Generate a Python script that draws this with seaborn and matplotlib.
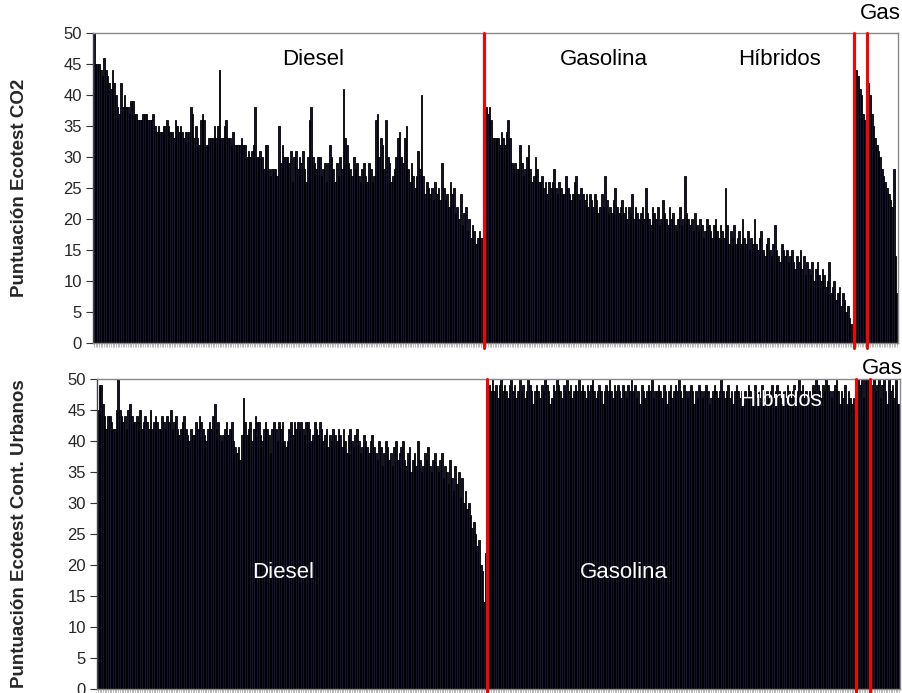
import matplotlib
matplotlib.use('Agg')
import numpy as np
import pandas as pd
import seaborn as sns
from matplotlib import pyplot as plt

# Puntuacion Ecotest CO2 (ordered as in the original chart)
diesel_co2 = [
    50, 45, 45, 45, 44, 43, 46, 44, 43, 42, 41, 44, 42, 40, 38, 37, 42, 38, 40, 38,
    38, 37, 39, 39, 37, 37, 36, 36, 36, 37, 37, 37, 36, 36, 36, 37, 35, 34, 35, 34,
    34, 35, 35, 36, 35, 34, 34, 33, 36, 35, 34, 35, 34, 33, 34, 34, 34, 38, 37, 33,
    35, 33, 32, 36, 37, 36, 32, 32, 33, 33, 33, 35, 33, 35, 44, 33, 33, 35, 36, 33,
    33, 32, 34, 32, 32, 32, 32, 33, 32, 32, 30, 31, 30, 31, 32, 38, 30, 30, 31, 30,
    28, 32, 32, 28, 27, 28, 28, 28, 27, 35, 29, 32, 30, 30, 30, 29, 31, 26, 30, 31,
    28, 30, 29, 31, 28, 26, 30, 36, 38, 30, 29, 28, 30, 30, 27, 28, 29, 26, 29, 32,
    30, 28, 26, 29, 27, 30, 28, 41, 33, 32, 29, 28, 27, 30, 28, 29, 27, 26, 28, 29,
    27, 26, 29, 28, 26, 27, 36, 37, 30, 33, 32, 28, 36, 30, 29, 26, 27, 28, 30, 33,
    34, 30, 29, 33, 35, 28, 26, 29, 27, 25, 27, 31, 28, 40, 27, 24, 26, 25, 24, 25,
    23, 26, 24, 25, 23, 29, 25, 23, 24, 22, 26, 24, 25, 21, 22, 20, 24, 19, 21, 22,
    18, 20, 17, 19, 18, 16, 17, 18, 17, 17,
]
gasolina_co2 = [
    38, 38, 37, 38, 36, 33, 33, 33, 33, 32, 34, 33, 32, 34, 36, 33, 29, 28, 29, 28,
    28, 32, 29, 27, 28, 30, 32, 28, 26, 27, 30, 28, 26, 26, 27, 25, 26, 24, 26, 25,
    26, 28, 25, 24, 26, 25, 24, 24, 27, 25, 24, 23, 24, 26, 27, 24, 23, 25, 24, 23,
    24, 22, 24, 23, 22, 24, 23, 21, 22, 24, 22, 27, 23, 21, 22, 21, 23, 25, 22, 21,
    22, 23, 21, 22, 20, 22, 21, 24, 20, 22, 21, 20, 21, 22, 20, 25, 21, 20, 19, 22,
    21, 20, 22, 19, 20, 23, 21, 20, 19, 22, 20, 21, 19, 18, 20, 22, 19, 20, 27, 21,
    20, 19, 20, 18, 21, 19, 18, 20, 19, 17, 18, 20, 19, 18, 17, 19, 20, 18, 17, 19,
    18, 17, 25, 19, 16, 18, 17, 19, 16, 17, 18, 16, 20, 17, 16, 18, 15, 17, 16, 20,
    16, 15, 17, 18, 15, 14, 16, 17, 15, 14, 16, 19, 15, 14, 13, 16, 15, 14, 15, 13,
    14, 15, 13, 12, 14, 13, 15, 12, 14, 11, 13, 12, 11, 13, 10, 12, 13, 11, 10, 12,
    11, 9, 10, 13, 8, 9, 10, 7, 8, 9, 6, 8, 7, 5, 6, 4, 3, 2,
]
hibridos_co2 = [44, 44, 43, 41, 40, 37, 36, 38]
gas_co2 = [42, 40, 37, 35, 33, 32, 31, 30, 28, 27, 26, 25, 24, 23, 22, 28, 14, 8]

# Puntuacion Ecotest Cont. Urbanos
diesel_urb = [
    45, 49, 49, 46, 44, 42, 44, 44, 43, 42, 42, 45, 50, 45, 44, 43, 44, 42, 45, 46,
    44, 43, 43, 44, 43, 45, 42, 43, 44, 43, 42, 45, 42, 43, 44, 43, 42, 42, 44, 43,
    42, 44, 43, 45, 42, 43, 44, 42, 41, 42, 43, 44, 42, 41, 40, 42, 41, 41, 43, 42,
    44, 43, 42, 41, 40, 42, 43, 42, 44, 46, 42, 43, 41, 40, 41, 42, 43, 41, 42, 43,
    40, 39, 38, 39, 37, 41, 47, 43, 41, 42, 43, 40, 42, 44, 43, 43, 41, 40, 42, 43,
    42, 41, 38, 42, 43, 42, 40, 43, 42, 43, 40, 39, 40, 42, 43, 41, 43, 42, 43, 42,
    43, 42, 41, 43, 43, 42, 40, 41, 43, 42, 41, 43, 42, 40, 41, 42, 39, 41, 40, 42,
    41, 40, 42, 41, 39, 42, 40, 38, 41, 42, 40, 39, 41, 42, 40, 38, 39, 41, 40, 39,
    38, 40, 41, 39, 38, 37, 40, 39, 36, 38, 40, 39, 37, 38, 36, 39, 40, 37, 38, 39,
    40, 37, 36, 38, 39, 35, 37, 38, 36, 40, 37, 35, 36, 38, 37, 39, 36, 35, 37, 38,
    36, 35, 37, 38, 34, 36, 35, 33, 37, 34, 32, 36, 33, 35, 31, 34, 30, 32, 29, 30,
    28, 26, 27, 25, 23, 24, 20, 19, 14, 22,
]
gasolina_urb = [
    50, 49, 48, 50, 48, 49, 47, 49, 50, 48, 49, 48, 47, 49, 50, 48, 49, 47, 48, 50,
    48, 49, 47, 48, 50, 49, 48, 46, 48, 49, 48, 47, 49, 48, 50, 49, 48, 46, 47, 49,
    48, 50, 49, 48, 47, 49, 48, 50, 48, 49, 47, 48, 49, 48, 50, 48, 49, 48, 47, 49,
    48, 49, 50, 48, 47, 48, 49, 48, 46, 48, 49, 48, 50, 48, 47, 49, 48, 49, 48, 47,
    49, 48, 47, 49, 48, 50, 48, 49, 47, 48, 46, 49, 48, 47, 48, 49, 48, 50, 47, 48,
    48, 49, 48, 47, 49, 48, 46, 48, 49, 47, 48, 49, 48, 50, 48, 47, 49, 48, 47, 48,
    49, 48, 46, 48, 47, 49, 48, 47, 48, 49, 48, 46, 47, 48, 49, 48, 47, 48, 50, 48,
    47, 48, 49, 47, 48, 46, 48, 49, 48, 47, 48, 46, 48, 47, 49, 48, 47, 48, 49, 47,
    48, 47, 49, 48, 46, 48, 47, 48, 49, 47, 48, 49, 48, 47, 46, 48, 47, 49, 48, 47,
    48, 49, 47, 48, 50, 48, 49, 47, 48, 46, 48, 47, 49, 48, 50, 49, 48, 47, 49, 48,
    50, 49, 48, 47, 48, 49, 50, 48, 46, 48, 47, 49, 46, 48, 47, 46, 47, 45,
]
hibridos_urb = [50, 50, 49, 50, 47, 50, 50, 50]
gas_urb = [50, 49, 50, 48, 49, 50, 47, 49, 50, 48, 46, 50, 48, 49, 47, 50, 46, 46]

tipos = ["Diesel", "Gasolina", "Híbridos", "Gas"]

sns.set_theme(style="white")
plt.rcParams['font.family'] = ['Liberation Sans', 'DejaVu Sans']

BAR = "#14142e"


def panel(ax, groups, ylabel):
    vals = [v for g in groups for v in g]
    df = pd.DataFrame({"idx": np.arange(len(vals)), "valor": vals})
    sns.barplot(data=df, x="idx", y="valor", color=BAR, saturation=1,
                width=1.0, edgecolor="black", linewidth=0.6, ax=ax)
    ax.set_ylim(0, 50)
    ax.set_xlim(-0.5, len(vals) - 0.5)
    ax.set_yticks(range(0, 51, 5))
    ax.tick_params(axis="y", labelsize=12, length=5, width=0.8,
                   color="#333333", left=True, pad=3)
    ax.set_xticks(np.arange(len(vals)))
    ax.set_xticklabels([])
    ax.tick_params(axis="x", length=3, width=0.4, color="#888888", bottom=True)
    ax.set_xlabel("")
    ax.set_ylabel(ylabel, fontsize=13.5, fontweight="bold")
    for s in ax.spines.values():
        s.set_color("#888888")
        s.set_linewidth(1)
    ax.spines["left"].set_color("#444444")
    # separators between fuel types
    edge = -0.5
    for g in groups[:-1]:
        edge += len(g)
        ax.axvline(edge, ymin=-0.015, ymax=1, color="red", lw=2.2,
                   clip_on=False, zorder=5)


fig = plt.figure(figsize=(9.03, 6.93), dpi=100)
ax1 = fig.add_axes([0.103, 0.5051, 0.8915, 0.4473])
ax2 = fig.add_axes([0.1074, 0.0058, 0.8893, 0.4473])

panel(ax1, [diesel_co2, gasolina_co2, hibridos_co2, gas_co2],
      "Puntuación Ecotest CO2")
panel(ax2, [diesel_urb, gasolina_urb, hibridos_urb, gas_urb],
      "Puntuación Ecotest Cont. Urbanos")
ax1.yaxis.set_label_coords(-0.081, 0.5)
ax2.yaxis.set_label_coords(-0.086, 0.5)

fs = 16
ax1.text(0.273, 0.913, tipos[0], transform=ax1.transAxes, ha="center", va="center", fontsize=fs, color="black")
ax1.text(0.635, 0.913, tipos[1], transform=ax1.transAxes, ha="center", va="center", fontsize=fs, color="black")
ax1.text(0.853, 0.913, tipos[2], transform=ax1.transAxes, ha="center", va="center", fontsize=fs, color="black")
ax1.text(0.978, 1.062, tipos[3], transform=ax1.transAxes, ha="center", va="center", fontsize=fs, color="black")

ax2.text(0.232, 0.377, tipos[0], transform=ax2.transAxes, ha="center", va="center", fontsize=fs, color="white")
ax2.text(0.656, 0.377, tipos[1], transform=ax2.transAxes, ha="center", va="center", fontsize=fs, color="white")
ax2.text(0.851, 0.932, tipos[2], transform=ax2.transAxes, ha="center", va="center", fontsize=fs, color="white")
ax2.text(0.978, 1.035, tipos[3], transform=ax2.transAxes, ha="center", va="center", fontsize=fs, color="black")

fig.savefig("out.png", dpi=100)
